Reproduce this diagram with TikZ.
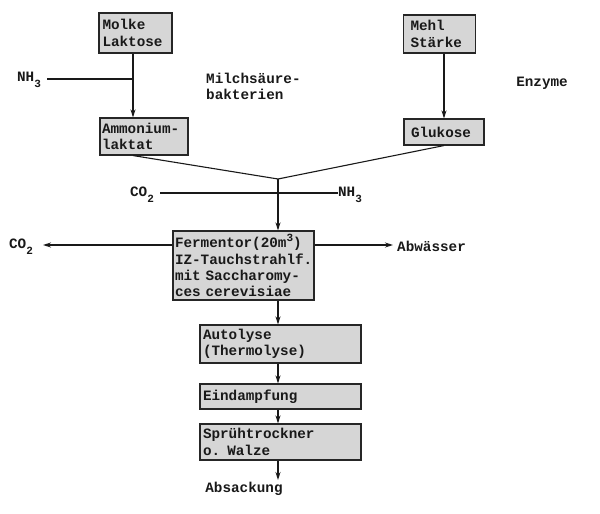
\documentclass[tikz,border=0pt]{standalone}
\usepackage{fontspec}
\setmonofont{Liberation Mono}
\usetikzlibrary{arrows.meta}
\newcommand\mysub[1]{\raisebox{-0.4em}{\fontsize{11}{11}\selectfont #1}}
\newcommand\mysup[1]{\raisebox{0.45em}{\fontsize{11}{11}\selectfont #1}}
\begin{document}
\begin{tikzpicture}[x=1pt,y=-1pt,
  every node/.style={font=\ttfamily\bfseries\fontsize{14.3}{16.3}\selectfont, text=black!90},
  box/.style={draw=black!85, fill=black!16, line width=1.1pt, inner xsep=3pt, inner ysep=0pt, align=left, anchor=center},
  lbl/.style={inner sep=0pt},
  ln/.style={line width=1.1pt, draw=black!90},
  arr/.style={ln, -{Stealth[length=8pt,width=5pt]}}]
\useasboundingbox (0,0) rectangle (600,514);
% boxes
\node[box, minimum width=73pt, minimum height=40pt, text width=66pt] (molke) at (135.5,33) {Molke\\Laktose};
\node[box, minimum width=88pt, minimum height=37pt, text width=84pt, inner xsep=1.5pt] (ammon) at (144,136.5) {Ammonium-\\laktat};
\node[box, minimum width=71pt, minimum height=38pt, text width=58pt, inner xsep=7pt] (mehl) at (439.5,34) {Mehl\\Stärke};
\node[box, minimum width=80pt, minimum height=26pt, text width=66pt, inner xsep=7pt] (gluk) at (444,132) {Glukose};
\node[box, minimum width=141pt, minimum height=69pt, text width=137pt, inner xsep=2pt] (ferm) at (243.5,265.5) {Fermentor(20m\mysup{3})\\IZ-Tauchstrahlf.\\mit Saccharomy-\\ces cerevisiae};
\node[box, minimum width=161pt, minimum height=38pt, text width=155pt] (auto) at (280.5,344) {Autolyse\\(Thermolyse)};
\node[box, minimum width=161pt, minimum height=25pt, text width=155pt] (eind) at (280.5,396.5) {Eindampfung};
\node[box, minimum width=161pt, minimum height=36pt, text width=155pt] (spru) at (280.5,442) {Sprühtrockner\\o. Walze};
% labels
\node[lbl] (nh3a) at (29,80) {NH\mysub{3}};
\node[lbl, anchor=north west, align=left] (milch) at (206,73) {Milchsäure-\\bakterien};
\node[lbl] (enz) at (542,83) {Enzyme};
\node[lbl] (co2m) at (142,195) {CO\mysub{2}};
\node[lbl] (nh3m) at (350,195) {NH\mysub{3}};
\node[lbl] (co2l) at (21,247) {CO\mysub{2}};
\node[lbl, anchor=west] (abw) at (397,246) {Abwässer};
\node[lbl] (absack) at (244,489) {Absackung};
% coordinates
\coordinate (j1) at (133,79);
\coordinate (j2) at (444,79);
\coordinate (jm) at (278,179);
\coordinate (jc) at (278,193);
\coordinate (lend) at (43,245);
\coordinate (rend) at (393,245);
\coordinate (bend) at (278,480);
% connectors
\draw[ln] (nh3a.east) ++(6,-1) -- (j1);
\draw[arr] (molke.south -| j1) -- (ammon.north -| j1);
\draw[arr] (mehl.south -| j2) -- (gluk.north -| j2);
\draw[ln] (ammon.south -| j1) -- (jm);
\draw[ln] (gluk.south) -- (jm);
\draw[ln] (co2m.east) ++(6,-2) -- (nh3m.west |- jc);
\draw[arr] (jm) -- (ferm.north -| jm);
\draw[arr] (ferm.west |- lend) -- (lend);
\draw[arr] (ferm.east |- rend) -- (rend);
\draw[arr] (ferm.south -| jm) -- (auto.north -| jm);
\draw[arr] (auto.south -| jm) -- (eind.north -| jm);
\draw[arr] (eind.south -| jm) -- (spru.north -| jm);
\draw[arr] (spru.south -| jm) -- (bend);
\end{tikzpicture}
\end{document}
